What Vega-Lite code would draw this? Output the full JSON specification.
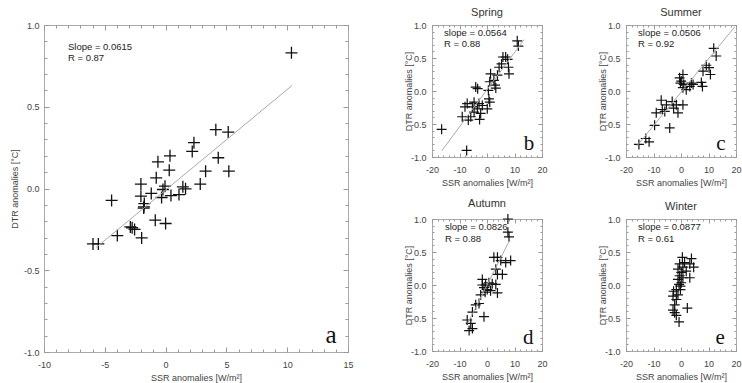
{
  "$schema": "https://vega.github.io/schema/vega-lite/v6.json",
  "padding": {"left": 9, "top": 6, "right": 0, "bottom": 0},
  "datasets": {
    "all": [
      {"ssr": 10.35, "dtr": 0.83}, {"ssr": 4.13, "dtr": 0.36}, {"ssr": 5.15, "dtr": 0.345}, {"ssr": 2.33, "dtr": 0.28},
      {"ssr": 2.19, "dtr": 0.227}, {"ssr": 0.36, "dtr": 0.2}, {"ssr": -0.63, "dtr": 0.163}, {"ssr": 4.33, "dtr": 0.188},
      {"ssr": 0.3, "dtr": 0.112}, {"ssr": 3.29, "dtr": 0.106}, {"ssr": 5.2, "dtr": 0.106}, {"ssr": -0.77, "dtr": 0.065},
      {"ssr": -2.03, "dtr": 0.027}, {"ssr": 2.85, "dtr": 0.027}, {"ssr": -0.05, "dtr": 0.014}, {"ssr": 1.42, "dtr": 0.01},
      {"ssr": 1.64, "dtr": -0.002}, {"ssr": -0.22, "dtr": -0.006}, {"ssr": -1.18, "dtr": -0.03}, {"ssr": -2.03, "dtr": -0.047},
      {"ssr": -0.33, "dtr": -0.055}, {"ssr": 0.44, "dtr": -0.043}, {"ssr": 1.1, "dtr": -0.037}, {"ssr": -4.44, "dtr": -0.073},
      {"ssr": -1.75, "dtr": -0.092}, {"ssr": -1.78, "dtr": -0.112}, {"ssr": -1.8, "dtr": -0.12}, {"ssr": -0.85, "dtr": -0.194},
      {"ssr": 0.0, "dtr": -0.214}, {"ssr": -2.9, "dtr": -0.235}, {"ssr": -2.75, "dtr": -0.24}, {"ssr": -2.55, "dtr": -0.25},
      {"ssr": -3.97, "dtr": -0.288}, {"ssr": -1.97, "dtr": -0.302}, {"ssr": -5.97, "dtr": -0.339}, {"ssr": -5.53, "dtr": -0.339}
    ],
    "all_fit": [{"ssr": -5.7, "dtr": -0.36}, {"ssr": 10.4, "dtr": 0.63}],
    "spring": [
      {"ssr": 11.0, "dtr": 0.76}, {"ssr": 11.4, "dtr": 0.68}, {"ssr": 5.8, "dtr": 0.515}, {"ssr": 6.8, "dtr": 0.515},
      {"ssr": 7.5, "dtr": 0.48}, {"ssr": 5.3, "dtr": 0.41}, {"ssr": 4.4, "dtr": 0.36}, {"ssr": 7.8, "dtr": 0.36},
      {"ssr": 8.0, "dtr": 0.26}, {"ssr": 1.3, "dtr": 0.26}, {"ssr": 3.8, "dtr": 0.24}, {"ssr": 2.5, "dtr": 0.16},
      {"ssr": 1.0, "dtr": 0.14}, {"ssr": 2.9, "dtr": 0.09}, {"ssr": 3.2, "dtr": 0.045}, {"ssr": -4.1, "dtr": 0.06},
      {"ssr": -3.4, "dtr": 0.035}, {"ssr": 0.5, "dtr": 0.01}, {"ssr": 0.7, "dtr": -0.12}, {"ssr": 1.0, "dtr": -0.17},
      {"ssr": -4.7, "dtr": -0.17}, {"ssr": -2.9, "dtr": -0.19}, {"ssr": -1.7, "dtr": -0.22}, {"ssr": -7.2, "dtr": -0.19},
      {"ssr": -8.0, "dtr": -0.24}, {"ssr": -5.3, "dtr": -0.24}, {"ssr": -3.5, "dtr": -0.27}, {"ssr": 0.1, "dtr": -0.27},
      {"ssr": -4.7, "dtr": -0.32}, {"ssr": -2.3, "dtr": -0.34}, {"ssr": -9.0, "dtr": -0.39}, {"ssr": -6.8, "dtr": -0.44},
      {"ssr": -5.9, "dtr": -0.39}, {"ssr": -2.7, "dtr": -0.43}, {"ssr": -16.5, "dtr": -0.58}, {"ssr": -7.4, "dtr": -0.9}
    ],
    "spring_fit": [{"ssr": -16.5, "dtr": -0.91}, {"ssr": 13.5, "dtr": 0.78}],
    "summer": [
      {"ssr": 11.9, "dtr": 0.646}, {"ssr": 12.8, "dtr": 0.53}, {"ssr": 9.2, "dtr": 0.39}, {"ssr": 10.2, "dtr": 0.354},
      {"ssr": 8.0, "dtr": 0.3}, {"ssr": 10.7, "dtr": 0.25}, {"ssr": 7.4, "dtr": 0.13}, {"ssr": 7.8, "dtr": 0.07},
      {"ssr": 0.7, "dtr": 0.25}, {"ssr": -0.5, "dtr": 0.2}, {"ssr": -0.2, "dtr": 0.12}, {"ssr": 1.0, "dtr": 0.1},
      {"ssr": 3.8, "dtr": 0.12}, {"ssr": 3.2, "dtr": 0.07}, {"ssr": 0.7, "dtr": 0.05}, {"ssr": 1.9, "dtr": 0.02},
      {"ssr": 4.4, "dtr": 0.1}, {"ssr": 0.1, "dtr": 0.15}, {"ssr": -7.2, "dtr": -0.14}, {"ssr": -3.2, "dtr": -0.16},
      {"ssr": -5.3, "dtr": -0.21}, {"ssr": -1.7, "dtr": -0.21}, {"ssr": 0.7, "dtr": -0.21}, {"ssr": -2.7, "dtr": -0.26},
      {"ssr": -6.8, "dtr": -0.28}, {"ssr": -9.0, "dtr": -0.33}, {"ssr": -5.9, "dtr": -0.31}, {"ssr": -1.1, "dtr": -0.33},
      {"ssr": -9.6, "dtr": -0.52}, {"ssr": -4.1, "dtr": -0.56}, {"ssr": -12.8, "dtr": -0.72}, {"ssr": -11.6, "dtr": -0.77},
      {"ssr": -15.3, "dtr": -0.81}
    ],
    "summer_fit": [{"ssr": -16, "dtr": -0.83}, {"ssr": 19.5, "dtr": 0.97}],
    "autumn": [
      {"ssr": 7.6, "dtr": 1.0}, {"ssr": 7.6, "dtr": 0.8}, {"ssr": 8.0, "dtr": 0.73}, {"ssr": 2.5, "dtr": 0.42},
      {"ssr": 3.8, "dtr": 0.42}, {"ssr": 5.0, "dtr": 0.37}, {"ssr": 8.6, "dtr": 0.37}, {"ssr": 6.8, "dtr": 0.34},
      {"ssr": 3.2, "dtr": 0.24}, {"ssr": 3.8, "dtr": 0.16}, {"ssr": 5.6, "dtr": 0.16}, {"ssr": -1.7, "dtr": 0.085},
      {"ssr": 0.7, "dtr": 0.034}, {"ssr": 1.9, "dtr": 0.018}, {"ssr": 3.2, "dtr": 0.008}, {"ssr": -0.5, "dtr": 0.0},
      {"ssr": -1.7, "dtr": 0.0}, {"ssr": -1.1, "dtr": -0.04}, {"ssr": 0.1, "dtr": -0.07}, {"ssr": 1.3, "dtr": -0.086},
      {"ssr": 3.8, "dtr": -0.12}, {"ssr": -0.7, "dtr": -0.11}, {"ssr": -2.3, "dtr": -0.15}, {"ssr": -2.9, "dtr": -0.28},
      {"ssr": -4.1, "dtr": -0.3}, {"ssr": -5.3, "dtr": -0.41}, {"ssr": -1.1, "dtr": -0.48}, {"ssr": -7.2, "dtr": -0.53},
      {"ssr": -5.9, "dtr": -0.58}, {"ssr": -5.3, "dtr": -0.66}, {"ssr": -6.5, "dtr": -0.69}
    ],
    "autumn_fit": [{"ssr": -7, "dtr": -0.58}, {"ssr": 8, "dtr": 0.66}],
    "winter": [
      {"ssr": 0.5, "dtr": 0.42}, {"ssr": 3.8, "dtr": 0.4}, {"ssr": 1.3, "dtr": 0.34}, {"ssr": -0.5, "dtr": 0.32},
      {"ssr": 3.2, "dtr": 0.32}, {"ssr": 4.6, "dtr": 0.27}, {"ssr": 0.7, "dtr": 0.27}, {"ssr": -1.1, "dtr": 0.24},
      {"ssr": 1.9, "dtr": 0.21}, {"ssr": 0.1, "dtr": 0.19}, {"ssr": -0.5, "dtr": 0.14}, {"ssr": 3.2, "dtr": 0.11},
      {"ssr": 0.7, "dtr": 0.11}, {"ssr": -1.1, "dtr": 0.085}, {"ssr": 0.1, "dtr": 0.034}, {"ssr": -0.7, "dtr": 0.008},
      {"ssr": -0.2, "dtr": -0.018}, {"ssr": -1.7, "dtr": -0.07}, {"ssr": -2.7, "dtr": -0.095}, {"ssr": -0.2, "dtr": -0.07},
      {"ssr": -1.1, "dtr": -0.15}, {"ssr": -2.9, "dtr": -0.17}, {"ssr": -1.7, "dtr": -0.22}, {"ssr": -2.3, "dtr": -0.3},
      {"ssr": 2.3, "dtr": -0.35}, {"ssr": -2.9, "dtr": -0.38}, {"ssr": -2.3, "dtr": -0.42}, {"ssr": -1.7, "dtr": -0.46},
      {"ssr": -0.7, "dtr": -0.56}
    ]
  },
  "hconcat": [
    {
      "width": 304, "height": 327,
      "layer": [
        {
          "data": {"name": "all"},
          "mark": {"type": "point", "shape": "M-1,0H1M0,-1V1", "filled": false, "stroke": "#111", "strokeWidth": 1.3, "size": 144, "opacity": 1},
          "encoding": {
            "x": {"field": "ssr", "type": "quantitative", "scale": {"domain": [-10, 15], "nice": false, "zero": false},
                  "axis": {"orient": "bottom", "values": [-10, -5, 0, 5, 10, 15], "tickSize": -5, "labelPadding": 13, "title": "SSR anomalies [W/m²]", "titlePadding": 4, "format": "d", "labelExpr": "replace(datum.label, '\u2212', '-')"}},
            "y": {"field": "dtr", "type": "quantitative", "scale": {"domain": [-1, 1], "nice": false, "zero": false},
                  "axis": {"orient": "left", "values": [-1, -0.5, 0, 0.5, 1], "tickSize": -5, "labelPadding": 10, "title": "DTR anomalies [°C]", "titlePadding": 4, "format": ".1f", "labelExpr": "replace(datum.label, '\u2212', '-')"}}
          }
        },
        {
          "data": {"name": "all_fit"},
          "mark": {"type": "line", "color": "#aaaaaa", "strokeWidth": 1},
          "encoding": {
            "x": {"field": "ssr", "type": "quantitative", "scale": {"domain": [-10, 15], "nice": false, "zero": false},
                  "axis": {"orient": "top", "values": [-10, -5, 0, 5, 10, 15], "tickSize": -5, "labels": false, "title": null}},
            "y": {"field": "dtr", "type": "quantitative", "scale": {"domain": [-1, 1], "nice": false, "zero": false},
                  "axis": {"orient": "right", "values": [-1, -0.5, 0, 0.5, 1], "tickSize": -5, "labels": false, "title": null}}
          }
        },
        {
          "data": {"values": [{"t": "Slope = 0.0615\nR = 0.87"}]},
          "mark": {"type": "text", "align": "left", "baseline": "alphabetic", "fontSize": 9.5, "lineBreak": "\n", "lineHeight": 11, "color": "#222"},
          "encoding": {
            "x": {"datum": -8.03, "type": "quantitative", "scale": {"domain": [-10, 15], "nice": false, "zero": false},
                  "axis": {"orient": "bottom", "values": [-10, -9, -8, -7, -6, -5, -4, -3, -2, -1, 0, 1, 2, 3, 4, 5, 6, 7, 8, 9, 10, 11, 12, 13, 14, 15], "tickSize": -3, "labels": false, "title": null}},
            "y": {"datum": 0.85, "type": "quantitative", "scale": {"domain": [-1, 1], "nice": false, "zero": false},
                  "axis": {"orient": "left", "values": [-1, -0.9, -0.8, -0.7, -0.6, -0.5, -0.4, -0.3, -0.2, -0.1, 0, 0.1, 0.2, 0.3, 0.4, 0.5, 0.6, 0.7, 0.8, 0.9, 1], "tickSize": -3, "labels": false, "title": null}},
            "text": {"field": "t"}
          }
        },
        {
          "data": {"values": [{"t": "a"}]},
          "mark": {"type": "text", "align": "center", "baseline": "alphabetic", "font": "Liberation Serif", "fontSize": 25, "color": "#111"},
          "encoding": {
            "x": {"datum": 13.6, "type": "quantitative", "scale": {"domain": [-10, 15], "nice": false, "zero": false},
                  "axis": {"orient": "top", "values": [-10, -9, -8, -7, -6, -5, -4, -3, -2, -1, 0, 1, 2, 3, 4, 5, 6, 7, 8, 9, 10, 11, 12, 13, 14, 15], "tickSize": -3, "labels": false, "title": null}},
            "y": {"datum": -0.945, "type": "quantitative", "scale": {"domain": [-1, 1], "nice": false, "zero": false},
                  "axis": {"orient": "right", "values": [-1, -0.9, -0.8, -0.7, -0.6, -0.5, -0.4, -0.3, -0.2, -0.1, 0, 0.1, 0.2, 0.3, 0.4, 0.5, 0.6, 0.7, 0.8, 0.9, 1], "tickSize": -3, "labels": false, "title": null}},
            "text": {"field": "t"}
          }
        }
      ],
      "resolve": {"axis": {"x": "independent", "y": "independent"}}
    },
    {
      "concat": [
        {
          "title": "Spring",
          "width": 110, "height": 132,
          "layer": [
            {"data": {"name": "spring"},
             "mark": {"type": "point", "shape": "M-1,0H1M0,-1V1", "filled": false, "stroke": "#111", "strokeWidth": 1.2, "size": 100, "opacity": 1},
             "encoding": {
               "x": {"field": "ssr", "type": "quantitative", "scale": {"domain": [-20, 20], "nice": false, "zero": false},
                     "axis": {"orient": "bottom", "values": [-20, -10, 0, 10, 20], "tickSize": -4, "labelPadding": 12, "title": "SSR anomalies [W/m²]", "titlePadding": 4, "format": "d", "labelExpr": "replace(datum.label, '\u2212', '-')"}},
               "y": {"field": "dtr", "type": "quantitative", "scale": {"domain": [-1, 1], "nice": false, "zero": false},
                     "axis": {"orient": "left", "values": [-1, -0.5, 0, 0.5, 1], "tickSize": -4, "labelPadding": 10, "title": "DTR anomalies [°C]", "titlePadding": -3, "format": ".1f", "labelExpr": "replace(datum.label, '\u2212', '-')"}}
             }},
            {"data": {"name": "spring_fit"},
             "mark": {"type": "line", "color": "#aaaaaa", "strokeWidth": 1},
             "encoding": {
               "x": {"field": "ssr", "type": "quantitative", "scale": {"domain": [-20, 20], "nice": false, "zero": false},
                     "axis": {"orient": "top", "values": [-20, -10, 0, 10, 20], "tickSize": -4, "labels": false, "title": null}},
               "y": {"field": "dtr", "type": "quantitative", "scale": {"domain": [-1, 1], "nice": false, "zero": false},
                     "axis": {"orient": "right", "values": [-1, -0.5, 0, 0.5, 1], "tickSize": -4, "labels": false, "title": null}}
             }},
            {"data": {"values": [{"t": "slope = 0.0564\nR = 0.88"}]},
             "mark": {"type": "text", "align": "left", "baseline": "alphabetic", "fontSize": 9.5, "lineBreak": "\n", "lineHeight": 11.5, "color": "#222"},
             "encoding": {
               "x": {"datum": -15.6, "type": "quantitative", "scale": {"domain": [-20, 20], "nice": false, "zero": false},
                     "axis": {"orient": "bottom", "values": [-20, -18, -16, -14, -12, -10, -8, -6, -4, -2, 0, 2, 4, 6, 8, 10, 12, 14, 16, 18, 20], "tickSize": -2, "labels": false, "title": null}},
               "y": {"datum": 0.84, "type": "quantitative", "scale": {"domain": [-1, 1], "nice": false, "zero": false},
                     "axis": {"orient": "left", "values": [-1, -0.9, -0.8, -0.7, -0.6, -0.5, -0.4, -0.3, -0.2, -0.1, 0, 0.1, 0.2, 0.3, 0.4, 0.5, 0.6, 0.7, 0.8, 0.9, 1], "tickSize": -2, "labels": false, "title": null}},
               "text": {"field": "t"}
             }},
            {"data": {"values": [{"t": "b"}]},
             "mark": {"type": "text", "align": "center", "baseline": "alphabetic", "font": "Liberation Serif", "fontSize": 21, "color": "#111"},
             "encoding": {
               "x": {"datum": 15.3, "type": "quantitative", "scale": {"domain": [-20, 20], "nice": false, "zero": false},
                     "axis": {"orient": "top", "values": [-20, -18, -16, -14, -12, -10, -8, -6, -4, -2, 0, 2, 4, 6, 8, 10, 12, 14, 16, 18, 20], "tickSize": -2, "labels": false, "title": null}},
               "y": {"datum": -0.89, "type": "quantitative", "scale": {"domain": [-1, 1], "nice": false, "zero": false},
                     "axis": {"orient": "right", "values": [-1, -0.9, -0.8, -0.7, -0.6, -0.5, -0.4, -0.3, -0.2, -0.1, 0, 0.1, 0.2, 0.3, 0.4, 0.5, 0.6, 0.7, 0.8, 0.9, 1], "tickSize": -2, "labels": false, "title": null}},
               "text": {"field": "t"}
             }}
          ],
          "resolve": {"axis": {"x": "independent", "y": "independent"}}
        },
        {
          "title": "Summer",
          "width": 110, "height": 132,
          "layer": [
            {"data": {"name": "summer"},
             "mark": {"type": "point", "shape": "M-1,0H1M0,-1V1", "filled": false, "stroke": "#111", "strokeWidth": 1.2, "size": 100, "opacity": 1},
             "encoding": {
               "x": {"field": "ssr", "type": "quantitative", "scale": {"domain": [-20, 20], "nice": false, "zero": false},
                     "axis": {"orient": "bottom", "values": [-20, -10, 0, 10, 20], "tickSize": -4, "labelPadding": 12, "title": "SSR anomalies [W/m²]", "titlePadding": 4, "format": "d", "labelExpr": "replace(datum.label, '\u2212', '-')"}},
               "y": {"field": "dtr", "type": "quantitative", "scale": {"domain": [-1, 1], "nice": false, "zero": false},
                     "axis": {"orient": "left", "values": [-1, -0.5, 0, 0.5, 1], "tickSize": -4, "labelPadding": 10, "title": "DTR anomalies [°C]", "titlePadding": -3, "format": ".1f", "labelExpr": "replace(datum.label, '\u2212', '-')"}}
             }},
            {"data": {"name": "summer_fit"},
             "mark": {"type": "line", "color": "#aaaaaa", "strokeWidth": 1, "clip": true},
             "encoding": {
               "x": {"field": "ssr", "type": "quantitative", "scale": {"domain": [-20, 20], "nice": false, "zero": false},
                     "axis": {"orient": "top", "values": [-20, -10, 0, 10, 20], "tickSize": -4, "labels": false, "title": null}},
               "y": {"field": "dtr", "type": "quantitative", "scale": {"domain": [-1, 1], "nice": false, "zero": false},
                     "axis": {"orient": "right", "values": [-1, -0.5, 0, 0.5, 1], "tickSize": -4, "labels": false, "title": null}}
             }},
            {"data": {"values": [{"t": "slope = 0.0506\nR = 0.92"}]},
             "mark": {"type": "text", "align": "left", "baseline": "alphabetic", "fontSize": 9.5, "lineBreak": "\n", "lineHeight": 11.5, "color": "#222"},
             "encoding": {
               "x": {"datum": -15.6, "type": "quantitative", "scale": {"domain": [-20, 20], "nice": false, "zero": false},
                     "axis": {"orient": "bottom", "values": [-20, -18, -16, -14, -12, -10, -8, -6, -4, -2, 0, 2, 4, 6, 8, 10, 12, 14, 16, 18, 20], "tickSize": -2, "labels": false, "title": null}},
               "y": {"datum": 0.84, "type": "quantitative", "scale": {"domain": [-1, 1], "nice": false, "zero": false},
                     "axis": {"orient": "left", "values": [-1, -0.9, -0.8, -0.7, -0.6, -0.5, -0.4, -0.3, -0.2, -0.1, 0, 0.1, 0.2, 0.3, 0.4, 0.5, 0.6, 0.7, 0.8, 0.9, 1], "tickSize": -2, "labels": false, "title": null}},
               "text": {"field": "t"}
             }},
            {"data": {"values": [{"t": "c"}]},
             "mark": {"type": "text", "align": "center", "baseline": "alphabetic", "font": "Liberation Serif", "fontSize": 21, "color": "#111"},
             "encoding": {
               "x": {"datum": 14.5, "type": "quantitative", "scale": {"domain": [-20, 20], "nice": false, "zero": false},
                     "axis": {"orient": "top", "values": [-20, -18, -16, -14, -12, -10, -8, -6, -4, -2, 0, 2, 4, 6, 8, 10, 12, 14, 16, 18, 20], "tickSize": -2, "labels": false, "title": null}},
               "y": {"datum": -0.9, "type": "quantitative", "scale": {"domain": [-1, 1], "nice": false, "zero": false},
                     "axis": {"orient": "right", "values": [-1, -0.9, -0.8, -0.7, -0.6, -0.5, -0.4, -0.3, -0.2, -0.1, 0, 0.1, 0.2, 0.3, 0.4, 0.5, 0.6, 0.7, 0.8, 0.9, 1], "tickSize": -2, "labels": false, "title": null}},
               "text": {"field": "t"}
             }}
          ],
          "resolve": {"axis": {"x": "independent", "y": "independent"}}
        },
        {
          "title": "Autumn",
          "width": 110, "height": 132,
          "layer": [
            {"data": {"name": "autumn"},
             "mark": {"type": "point", "shape": "M-1,0H1M0,-1V1", "filled": false, "stroke": "#111", "strokeWidth": 1.2, "size": 100, "opacity": 1},
             "encoding": {
               "x": {"field": "ssr", "type": "quantitative", "scale": {"domain": [-20, 20], "nice": false, "zero": false},
                     "axis": {"orient": "bottom", "values": [-20, -10, 0, 10, 20], "tickSize": -4, "labelPadding": 12, "title": "SSR anomalies [W/m²]", "titlePadding": 4, "format": "d", "labelExpr": "replace(datum.label, '\u2212', '-')"}},
               "y": {"field": "dtr", "type": "quantitative", "scale": {"domain": [-1, 1], "nice": false, "zero": false},
                     "axis": {"orient": "left", "values": [-1, -0.5, 0, 0.5, 1], "tickSize": -4, "labelPadding": 10, "title": "DTR anomalies [°C]", "titlePadding": -3, "format": ".1f", "labelExpr": "replace(datum.label, '\u2212', '-')"}}
             }},
            {"data": {"name": "autumn_fit"},
             "mark": {"type": "line", "color": "#aaaaaa", "strokeWidth": 1},
             "encoding": {
               "x": {"field": "ssr", "type": "quantitative", "scale": {"domain": [-20, 20], "nice": false, "zero": false},
                     "axis": {"orient": "top", "values": [-20, -10, 0, 10, 20], "tickSize": -4, "labels": false, "title": null}},
               "y": {"field": "dtr", "type": "quantitative", "scale": {"domain": [-1, 1], "nice": false, "zero": false},
                     "axis": {"orient": "right", "values": [-1, -0.5, 0, 0.5, 1], "tickSize": -4, "labels": false, "title": null}}
             }},
            {"data": {"values": [{"t": "slope = 0.0826\nR = 0.88"}]},
             "mark": {"type": "text", "align": "left", "baseline": "alphabetic", "fontSize": 9.5, "lineBreak": "\n", "lineHeight": 11.5, "color": "#222"},
             "encoding": {
               "x": {"datum": -15.3, "type": "quantitative", "scale": {"domain": [-20, 20], "nice": false, "zero": false},
                     "axis": {"orient": "bottom", "values": [-20, -18, -16, -14, -12, -10, -8, -6, -4, -2, 0, 2, 4, 6, 8, 10, 12, 14, 16, 18, 20], "tickSize": -2, "labels": false, "title": null}},
               "y": {"datum": 0.83, "type": "quantitative", "scale": {"domain": [-1, 1], "nice": false, "zero": false},
                     "axis": {"orient": "left", "values": [-1, -0.9, -0.8, -0.7, -0.6, -0.5, -0.4, -0.3, -0.2, -0.1, 0, 0.1, 0.2, 0.3, 0.4, 0.5, 0.6, 0.7, 0.8, 0.9, 1], "tickSize": -2, "labels": false, "title": null}},
               "text": {"field": "t"}
             }},
            {"data": {"values": [{"t": "d"}]},
             "mark": {"type": "text", "align": "center", "baseline": "alphabetic", "font": "Liberation Serif", "fontSize": 21, "color": "#111"},
             "encoding": {
               "x": {"datum": 15.0, "type": "quantitative", "scale": {"domain": [-20, 20], "nice": false, "zero": false},
                     "axis": {"orient": "top", "values": [-20, -18, -16, -14, -12, -10, -8, -6, -4, -2, 0, 2, 4, 6, 8, 10, 12, 14, 16, 18, 20], "tickSize": -2, "labels": false, "title": null}},
               "y": {"datum": -0.89, "type": "quantitative", "scale": {"domain": [-1, 1], "nice": false, "zero": false},
                     "axis": {"orient": "right", "values": [-1, -0.9, -0.8, -0.7, -0.6, -0.5, -0.4, -0.3, -0.2, -0.1, 0, 0.1, 0.2, 0.3, 0.4, 0.5, 0.6, 0.7, 0.8, 0.9, 1], "tickSize": -2, "labels": false, "title": null}},
               "text": {"field": "t"}
             }}
          ],
          "resolve": {"axis": {"x": "independent", "y": "independent"}}
        },
        {
          "title": "Winter",
          "width": 110, "height": 132,
          "layer": [
            {"data": {"name": "winter"},
             "mark": {"type": "point", "shape": "M-1,0H1M0,-1V1", "filled": false, "stroke": "#111", "strokeWidth": 1.2, "size": 100, "opacity": 1},
             "encoding": {
               "x": {"field": "ssr", "type": "quantitative", "scale": {"domain": [-20, 20], "nice": false, "zero": false},
                     "axis": {"orient": "bottom", "values": [-20, -10, 0, 10, 20], "tickSize": -4, "labelPadding": 12, "title": "SSR anomalies [W/m²]", "titlePadding": 4, "format": "d", "labelExpr": "replace(datum.label, '\u2212', '-')"}},
               "y": {"field": "dtr", "type": "quantitative", "scale": {"domain": [-1, 1], "nice": false, "zero": false},
                     "axis": {"orient": "left", "values": [-1, -0.5, 0, 0.5, 1], "tickSize": -4, "labelPadding": 10, "title": "DTR anomalies [°C]", "titlePadding": -3, "format": ".1f", "labelExpr": "replace(datum.label, '\u2212', '-')"}}
             }},
            {"data": {"name": "winter"},
             "mark": {"type": "point", "opacity": 0, "size": 1},
             "encoding": {
               "x": {"field": "ssr", "type": "quantitative", "scale": {"domain": [-20, 20], "nice": false, "zero": false},
                     "axis": {"orient": "top", "values": [-20, -10, 0, 10, 20], "tickSize": -4, "labels": false, "title": null}},
               "y": {"field": "dtr", "type": "quantitative", "scale": {"domain": [-1, 1], "nice": false, "zero": false},
                     "axis": {"orient": "right", "values": [-1, -0.5, 0, 0.5, 1], "tickSize": -4, "labels": false, "title": null}}
             }},
            {"data": {"values": [{"t": "slope = 0.0877\nR = 0.61"}]},
             "mark": {"type": "text", "align": "left", "baseline": "alphabetic", "fontSize": 9.5, "lineBreak": "\n", "lineHeight": 11.5, "color": "#222"},
             "encoding": {
               "x": {"datum": -15.6, "type": "quantitative", "scale": {"domain": [-20, 20], "nice": false, "zero": false},
                     "axis": {"orient": "bottom", "values": [-20, -18, -16, -14, -12, -10, -8, -6, -4, -2, 0, 2, 4, 6, 8, 10, 12, 14, 16, 18, 20], "tickSize": -2, "labels": false, "title": null}},
               "y": {"datum": 0.83, "type": "quantitative", "scale": {"domain": [-1, 1], "nice": false, "zero": false},
                     "axis": {"orient": "left", "values": [-1, -0.9, -0.8, -0.7, -0.6, -0.5, -0.4, -0.3, -0.2, -0.1, 0, 0.1, 0.2, 0.3, 0.4, 0.5, 0.6, 0.7, 0.8, 0.9, 1], "tickSize": -2, "labels": false, "title": null}},
               "text": {"field": "t"}
             }},
            {"data": {"values": [{"t": "e"}]},
             "mark": {"type": "text", "align": "center", "baseline": "alphabetic", "font": "Liberation Serif", "fontSize": 21, "color": "#111"},
             "encoding": {
               "x": {"datum": 14.2, "type": "quantitative", "scale": {"domain": [-20, 20], "nice": false, "zero": false},
                     "axis": {"orient": "top", "values": [-20, -18, -16, -14, -12, -10, -8, -6, -4, -2, 0, 2, 4, 6, 8, 10, 12, 14, 16, 18, 20], "tickSize": -2, "labels": false, "title": null}},
               "y": {"datum": -0.89, "type": "quantitative", "scale": {"domain": [-1, 1], "nice": false, "zero": false},
                     "axis": {"orient": "right", "values": [-1, -0.9, -0.8, -0.7, -0.6, -0.5, -0.4, -0.3, -0.2, -0.1, 0, 0.1, 0.2, 0.3, 0.4, 0.5, 0.6, 0.7, 0.8, 0.9, 1], "tickSize": -2, "labels": false, "title": null}},
               "text": {"field": "t"}
             }}
          ],
          "resolve": {"axis": {"x": "independent", "y": "independent"}}
        }
      ],
      "columns": 2,
      "spacing": {"row": 62, "column": 84},
      "bounds": "flush"
    }
  ],
  "spacing": 84,
  "bounds": "flush",
  "config": {
    "font": "Liberation Sans",
    "view": {"stroke": "#aaaaaa", "strokeWidth": 1},
    "axis": {"grid": false, "domain": false, "tickColor": "#999999", "labelColor": "#444444", "titleColor": "#444444", "labelFontSize": 9, "titleFontSize": 9, "titleFontWeight": "normal", "labelFlush": false, "labelOverlap": false},
    "title": {"fontSize": 11, "fontWeight": "normal", "color": "#333333", "offset": 3}
  }
}
